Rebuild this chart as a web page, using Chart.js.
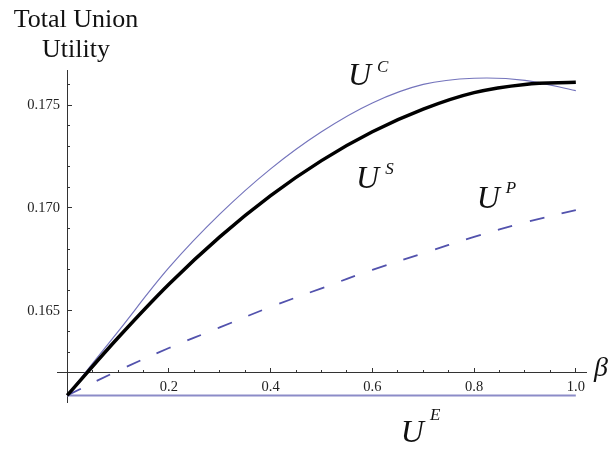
<!DOCTYPE html>
<html>
<head>
<meta charset="utf-8">
<script src="https://cdn.jsdelivr.net/npm/chart.js@4.4.1/dist/chart.umd.min.js"></script>
<style>
  html, body { margin: 0; padding: 0; background: #fff; }
  #wrap { width: 613px; height: 449px; }
</style>
</head>
<body>
<div id="wrap"><canvas id="canvas" width="613" height="449"></canvas></div>
<script>
'use strict';

// beta values the curves were read at
var beta = [0, 0.1, 0.2, 0.3, 0.4, 0.5, 0.6, 0.7, 0.8, 0.9, 1.0];

// total union utility
var uC = [0.1609, 0.1640, 0.1671, 0.1697, 0.1719, 0.1737, 0.1751, 0.1760, 0.1763, 0.1762, 0.1757];
var uS = [0.1609, 0.1637, 0.1663, 0.1686, 0.1706, 0.1723, 0.1737, 0.1748, 0.1756, 0.1760, 0.1761];
var uP = [0.1609, 0.1621, 0.1632, 0.1642, 0.1652, 0.1661, 0.1670, 0.1678, 0.1686, 0.1693, 0.1699];
var uE = [0.1609, 0.1609, 0.1609, 0.1609, 0.1609, 0.1609, 0.1609, 0.1609, 0.1609, 0.1609, 0.1609];

var xTickLabels = [0.2, 0.4, 0.6, 0.8, 1.0];
var yTickLabels = [0.165, 0.170, 0.175];

// curve names, placed in data coordinates
var curveLabels = [
	{ base: 'U', sup: 'C', x: 0.552, y: 0.17597, raise: 13 },
	{ base: 'U', sup: 'S', x: 0.568, y: 0.17097, raise: 14 },
	{ base: 'U', sup: 'P', x: 0.805, y: 0.1700, raise: 15 },
	{ base: 'U', sup: 'E', x: 0.656, y: 0.15864, raise: 22 }
];

var serif = '"Liberation Serif", "Times New Roman", serif';

function points(ys) {
	var out = [];
	for (var i = 0; i < beta.length; i++) {
		out.push({ x: beta[i], y: ys[i] });
	}
	return out;
}

function near(v, list) {
	for (var i = 0; i < list.length; i++) {
		if (Math.abs(v - list[i]) < 1e-6) return true;
	}
	return false;
}

var textPlugin = {
	id: 'textPlugin',
	afterDraw: function(chart) {
		var ctx = chart.ctx;
		var xs = chart.scales.x;
		var ys = chart.scales.y;
		ctx.save();
		ctx.fillStyle = '#111';
		ctx.textBaseline = 'alphabetic';

		ctx.font = '26px ' + serif;
		ctx.textAlign = 'center';
		ctx.fillText('Total Union', 76, 27);
		ctx.fillText('Utility', 76, 57);

		ctx.textAlign = 'left';
		ctx.font = 'italic 28px ' + serif;
		ctx.fillText('\u03b2', xs.right + 8, ys.getPixelForValue(0.162) + 3);

		curveLabels.forEach(function(l) {
			var px = xs.getPixelForValue(l.x);
			var py = ys.getPixelForValue(l.y);
			ctx.font = 'italic 32px ' + serif;
			ctx.fillText(l.base, px, py);
			var w = ctx.measureText(l.base).width;
			ctx.font = 'italic 17px ' + serif;
			ctx.fillText(l.sup, px + w + 6, py - l.raise);
		});
		ctx.restore();
	}
};

var axisColor = '#333';
var tickFont = { family: serif, size: 14.5 };

var config = {
	type: 'line',
	data: {
		datasets: [{
			label: 'U^S',
			data: points(uS),
			borderColor: '#000',
			borderWidth: 3.5,
			pointRadius: 0,
			tension: 0.35,
			order: 0
		}, {
			label: 'U^C',
			data: points(uC),
			borderColor: '#7474bc',
			borderWidth: 1.2,
			pointRadius: 0,
			tension: 0.35,
			order: 1
		}, {
			label: 'U^P',
			data: points(uP),
			borderColor: '#5252ad',
			borderWidth: 1.8,
			borderDash: [15, 18],
			pointRadius: 0,
			tension: 0.35,
			order: 2
		}, {
			label: 'U^E',
			data: points(uE),
			borderColor: '#8c8cc8',
			borderWidth: 2,
			pointRadius: 0,
			tension: 0,
			order: 3
		}]
	},
	options: {
		responsive: false,
		animation: false,
		layout: { padding: { left: 57, right: 27, top: 70, bottom: 47 } },
		plugins: { legend: { display: false }, tooltip: { enabled: false }, title: { display: false } },
		scales: {
			x: {
				type: 'linear',
				min: -0.02,
				max: 1.02,
				position: { y: 0.162 },
				border: { color: axisColor, width: 1 },
				grid: { drawOnChartArea: false, drawTicks: true, tickLength: -5, tickColor: axisColor },
				ticks: {
					stepSize: 0.2,
					includeBounds: false,
					autoSkip: false,
					maxRotation: 0,
					padding: 11,
					color: '#222',
					font: tickFont,
					callback: function(v) { return (v > 0 && near(v, xTickLabels)) ? v.toFixed(1) : ''; }
				}
			},
			xMinor: {
				type: 'linear',
				axis: 'x',
				min: -0.02,
				max: 1.02,
				position: { y: 0.162 },
				border: { display: false },
				grid: { drawOnChartArea: false, drawTicks: true, tickLength: -3, tickColor: axisColor },
				ticks: { stepSize: 0.05, includeBounds: false, autoSkip: false, callback: function() { return ''; } }
			},
			y: {
				type: 'linear',
				min: 0.16058,
				max: 0.1767,
				position: { x: 0 },
				border: { color: axisColor, width: 1 },
				grid: { drawOnChartArea: false, drawTicks: true, tickLength: -5, tickColor: axisColor },
				ticks: {
					stepSize: 0.005,
					includeBounds: false,
					autoSkip: false,
					color: '#222',
					font: tickFont,
					// en space keeps the label off the axis line
					callback: function(v) { return near(v, yTickLabels) ? v.toFixed(3) + '\u2002' : ''; }
				}
			},
			yMinor: {
				type: 'linear',
				axis: 'y',
				min: 0.16058,
				max: 0.1767,
				position: { x: 0 },
				border: { display: false },
				grid: { drawOnChartArea: false, drawTicks: true, tickLength: -3, tickColor: axisColor },
				ticks: { stepSize: 0.001, includeBounds: false, autoSkip: false, callback: function() { return ''; } }
			}
		}
	},
	plugins: [textPlugin]
};

var ctx = document.getElementById('canvas').getContext('2d');
window.mychart = new Chart(ctx, config);
</script>
</body>
</html>
